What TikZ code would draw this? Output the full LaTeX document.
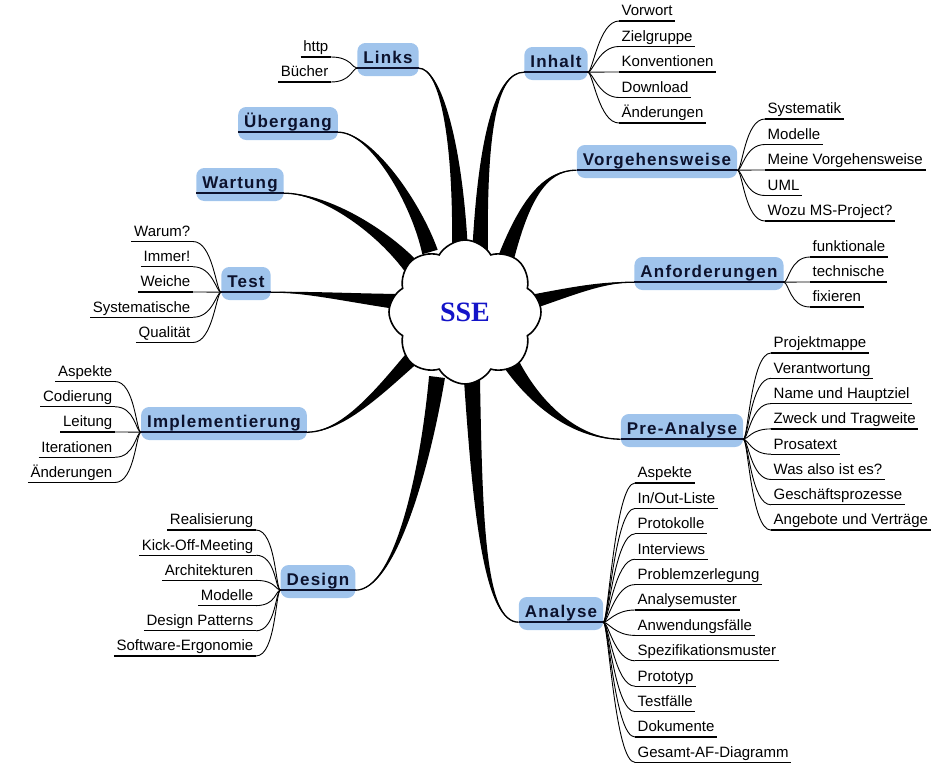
\documentclass[tikz,border=0pt]{standalone}
\usepackage{fontspec}
\setmainfont{Liberation Sans}
\newfontfamily\topicfont[LetterSpace=7]{Liberation Sans}
\newfontfamily\ssefont{Liberation Serif}
\usetikzlibrary{shapes.symbols,calc,backgrounds}

\definecolor{boxblue}{RGB}{160,196,236}
\definecolor{topicink}{RGB}{12,18,45}
\definecolor{sseblue}{RGB}{20,20,200}

\tikzset{
  topic/.style={fill=boxblue, rounded corners=8pt, text=topicink,
    font=\topicfont\bfseries\fontsize{17}{20}\selectfont,
    inner xsep=6pt, inner ysep=8pt, text height=12pt, text depth=5pt},
  leaf/.style={font=\fontsize{15}{18}\selectfont, inner xsep=2.5pt, inner ysep=1pt,
    text height=11pt, text depth=4pt},
  topline/.style={draw=topicink, line width=1.6pt},
  uline/.style={line width=1.3pt},
  twig/.style={line width=0.9pt},
}

\begin{document}
\begin{tikzpicture}[x=1pt, y=-1pt]

  \useasboundingbox (0,0) rectangle (948,764);

  \newcommand\trunk[4]{%
    \coordinate (tb) at ($(sse)+(#1)$);
    \fill ($(tb)!8pt!90:(#2)$) .. controls ($(#2)!4.5pt!90:(#3)$) and ($(#3)!1pt!90:(#4)$) .. (#4)
      .. controls ($(#3)!1pt!-90:(#4)$) and ($(#2)!4.5pt!-90:(#3)$) .. ($(tb)!8pt!-90:(#2)$) -- cycle;
    \draw[line width=1.3pt] (tb) .. controls (#2) and (#3) .. (#4);
  }

  % centre
  \node[cloud, cloud puffs=8, cloud puff arc=120, aspect=1.05, draw, fill=white,
    line width=1.6pt, minimum width=152pt, minimum height=144pt, inner sep=0pt,
    font=\ssefont\bfseries\fontsize{28}{30}\selectfont, text=sseblue] (sse) at (465,312) {SSE};

  % topics
  \node[topic] (links)     at (388,59.5)  {Links};
  \node[topic] (inhalt)    at (556,63.5)  {Inhalt};
  \node[topic] (uebergang) at (288,123.5) {Übergang};
  \node[topic] (vorgehen)  at (657,161.5) {Vorgehensweise};
  \node[topic] (wartung)   at (240,184.5) {Wartung};
  \node[topic] (anford)    at (709,273.5) {Anforderungen};
  \node[topic] (test)      at (246,283.5) {Test};
  \node[topic] (impl)      at (224,423.5) {Implementierung};
  \node[topic] (prea)      at (682,430.5) {Pre-Analyse};
  \node[topic] (design)    at (318,581.5) {Design};
  \node[topic] (analyse)   at (561,613.5) {Analyse};

  \foreach \n in {links,inhalt,uebergang,vorgehen,wartung,anford,test,impl,prea,design,analyse} {
    \coordinate (\n-w) at ([yshift=8pt]\n.south west);
    \coordinate (\n-e) at ([yshift=8pt]\n.south east);
    \draw[topline] (\n-w) -- (\n-e);
  }

  % main branches
  \begin{scope}[on background layer]
    \trunk{-5,-60}{458,140}{440,68}{links-e}
    \trunk{-35,-60}{415,200}{370,132}{uebergang-e}
    \trunk{-55,-47}{375,225}{320,193}{wartung-e}
    \trunk{-62,-10}{350,298}{310,292}{test-e}
    \trunk{-47,40}{385,385}{345,432}{impl-e}
    \trunk{-28,65}{425,470}{395,590}{design-e}
    \trunk{7,68}{478,520}{485,622}{analyse-w}
    \trunk{47,53}{540,410}{580,439}{prea-w}
    \trunk{55,-7}{570,292}{600,282}{anford-w}
    \trunk{41,-54}{525,200}{545,170}{vorgehen-w}
    \trunk{15,-55}{482,140}{495,72}{inhalt-w}
  \end{scope}

  % left side
  \foreach \t [count=\i from 0] in {http,Bücher} {
    \node[leaf, anchor=south east] (links-\i) at (331,57+25*\i) {\t};
    \draw[uline] (links-\i.south west) -- (links-\i.south east);
    \draw[twig] (links-w) .. controls +(-5,0) and +(20,0) .. (links-\i.south east);
  }
  \foreach \t [count=\i from 0] in {Warum?,Immer!,Weiche,Systematische,Qualität} {
    \node[leaf, anchor=south east] (test-\i) at (193,241.5+25.25*\i) {\t};
    \draw[uline] (test-\i.south west) -- (test-\i.south east);
    \draw[twig] (test-w) .. controls +(-5,0) and +(20,0) .. (test-\i.south east);
  }
  \foreach \t [count=\i from 0] in {Aspekte,Codierung,Leitung,Iterationen,Änderungen} {
    \node[leaf, anchor=south east] (impl-\i) at (115,381.5+25.25*\i) {\t};
    \draw[uline] (impl-\i.south west) -- (impl-\i.south east);
    \draw[twig] (impl-w) .. controls +(-5,0) and +(20,0) .. (impl-\i.south east);
  }
  \foreach \t [count=\i from 0] in {Realisierung,Kick-Off-Meeting,Architekturen,Modelle,
      Design Patterns,Software-Ergonomie} {
    \node[leaf, anchor=south east] (design-\i) at (256,530+25.2*\i) {\t};
    \draw[uline] (design-\i.south west) -- (design-\i.south east);
    \draw[twig] (design-w) .. controls +(-5,0) and +(20,0) .. (design-\i.south east);
  }

  % right side
  \foreach \t [count=\i from 0] in {Vorwort,Zielgruppe,Konventionen,Download,Änderungen} {
    \node[leaf, anchor=south west] (inhalt-\i) at (619,21+25.5*\i) {\t};
    \draw[uline] (inhalt-\i.south west) -- (inhalt-\i.south east);
    \draw[twig] (inhalt-e) .. controls +(5,0) and +(-20,0) .. (inhalt-\i.south west);
  }
  \foreach \t [count=\i from 0] in {Systematik,Modelle,Meine Vorgehensweise,UML,Wozu MS-Project?} {
    \node[leaf, anchor=south west] (vorgehen-\i) at (765,119+25.5*\i) {\t};
    \draw[uline] (vorgehen-\i.south west) -- (vorgehen-\i.south east);
    \draw[twig] (vorgehen-e) .. controls +(5,0) and +(-20,0) .. (vorgehen-\i.south west);
  }
  \foreach \t [count=\i from 0] in {funktionale,technische,fixieren} {
    \node[leaf, anchor=south west] (anford-\i) at (810,257+25*\i) {\t};
    \draw[uline] (anford-\i.south west) -- (anford-\i.south east);
    \draw[twig] (anford-e) .. controls +(5,0) and +(-20,0) .. (anford-\i.south west);
  }
  \foreach \t [count=\i from 0] in {Projektmappe,Verantwortung,Name und Hauptziel,
      Zweck und Tragweite,Prosatext,Was also ist es?,Geschäftsprozesse,Angebote und Verträge} {
    \node[leaf, anchor=south west] (prea-\i) at (771,353+25.3*\i) {\t};
    \draw[uline] (prea-\i.south west) -- (prea-\i.south east);
    \draw[twig] (prea-e) .. controls +(5,0) and +(-20,0) .. (prea-\i.south west);
  }
  \foreach \t [count=\i from 0] in {Aspekte,{In/Out-Liste},Protokolle,Interviews,Problemzerlegung,
      Analysemuster,Anwendungsfälle,Spezifikationsmuster,Prototyp,Testfälle,Dokumente,
      Gesamt-AF-Diagramm} {
    \node[leaf, anchor=south west] (analyse-\i) at (635,483+25.4*\i) {\t};
    \draw[uline] (analyse-\i.south west) -- (analyse-\i.south east);
    \draw[twig] (analyse-e) .. controls +(5,0) and +(-20,0) .. (analyse-\i.south west);
  }

\end{tikzpicture}
\end{document}
